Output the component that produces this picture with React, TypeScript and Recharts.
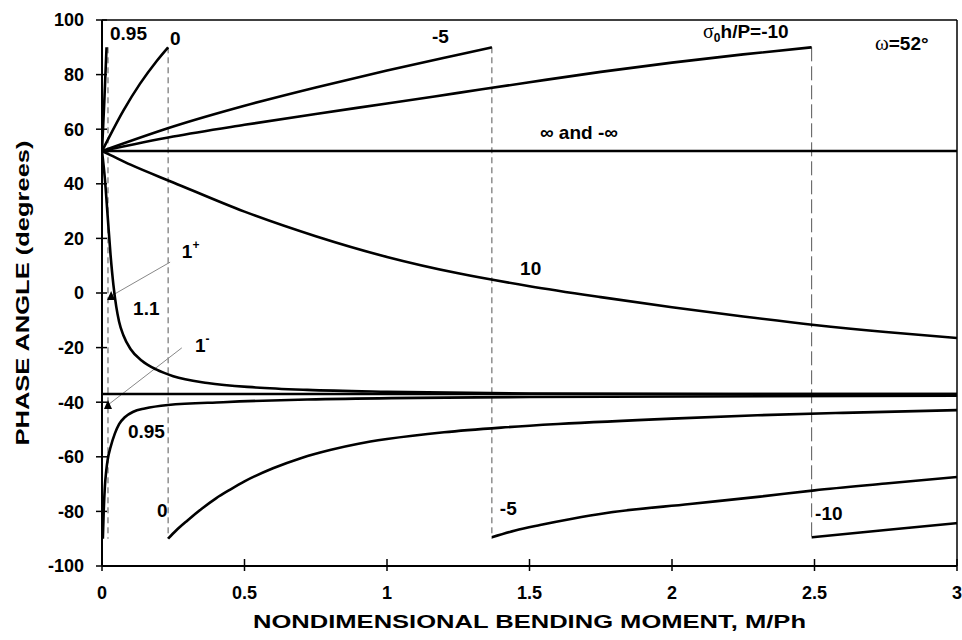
import React from 'react';
import { ComposedChart, Line, XAxis, YAxis, ReferenceLine, ReferenceDot, Scatter } from 'recharts';

type Pt = { x: number; y: number };
const pts = (a: number[][]): Pt[] => a.map(([x, y]) => ({ x, y }));

// axis ticks
const xTicks = [0, 0.5, 1, 1.5, 2, 2.5, 3];
const xTickLabels = ['0', '0.5', '1', '1.5', '2', '2.5', '3'];
const yTicks = [-100, -80, -60, -40, -20, 0, 20, 40, 60, 80, 100];

// curves for sigma0 h / P
const sigmaInf = [[0, 52], [3, 52]];
const sigma10 = [[0, 52], [0.03, 50.5], [0.1, 47], [0.25, 40.5], [0.5, 29.8], [0.75, 20.8], [1.0, 13.2], [1.25, 7.2], [1.5, 2.5], [1.75, -1.5], [2.0, -5.2], [2.25, -8.6], [2.5, -11.7], [2.75, -14.3], [3.0, -16.5]];
const sigma0Upper = [[0, 52], [0.005, 53], [0.075, 66.8], [0.133, 76.6], [0.192, 85], [0.232, 90]];
const sigmaM5Upper = [[0, 52], [0.25, 61], [0.5, 68.6], [0.75, 75.3], [1.0, 81.5], [1.25, 87.3], [1.368, 90]];
const sigmaM10Upper = [[0, 52], [0.25, 57.3], [0.5, 61.6], [0.75, 65.6], [1.0, 69.4], [1.25, 73.3], [1.5, 77.2], [1.75, 81], [2.0, 84.4], [2.25, 87.4], [2.49, 90]];
const sigma095Upper = [[0, 52], [0.008, 70], [0.016, 90]];
const sigma11 = [[0, 52], [0.01, 42], [0.02, 28], [0.03, 14], [0.04, 3], [0.05, -5], [0.06, -10.5], [0.075, -15.5], [0.1, -20.5], [0.14, -24.8], [0.19, -28], [0.25, -30.5], [0.37, -33], [0.54, -34.6], [0.72, -35.5], [1.0, -36.2], [1.5, -36.8], [2.2, -37], [3, -37]];
const sigma1Line = [[0, -37], [3, -37]];
const sigma095Lower = [[0.003, -90], [0.006, -80], [0.01, -71], [0.015, -65], [0.02, -61], [0.03, -56.5], [0.045, -51.5], [0.06, -48], [0.08, -45.5], [0.11, -43.5], [0.15, -42.3], [0.232, -41], [0.425, -40], [0.72, -39], [1.5, -38.1], [3, -37.6]];
const sigma0Lower = [[0.232, -90], [0.26, -87], [0.3, -83.3], [0.35, -79], [0.4, -75.2], [0.45, -72], [0.5, -69], [0.6, -64.2], [0.7, -60.4], [0.8, -57.5], [0.9, -55.2], [1.0, -53.5], [1.2, -51], [1.4, -49.3], [1.6, -48], [2.0, -46], [2.3, -44.8], [2.6, -43.9], [3.0, -42.9]];
const sigmaM5Lower = [[1.368, -89.5], [1.45, -87], [1.537, -85], [1.65, -82.7], [1.77, -80.6], [2.063, -77.3], [2.309, -74.6], [2.5, -72.3], [2.75, -69.8], [3.0, -67.4]];
const sigmaM10Lower = [[2.49, -89.5], [2.75, -86.8], [3.0, -84.3]];

// vertical dashed limits
const dashX = [0.021, 0.232, 1.368, 2.49];
const dashTop = 90;
const dashBottom = -90;

// pointers and markers for 1+ / 1-
const pointer1Plus = [[0.032, -1.1], [0.239, 11.3]];
const pointer1Minus = [[0.021, -41], [0.28, -20.1]];
const markers = [[0.032, -1.1], [0.021, -41]];

// curve labels (anchor = text start, baseline)
const labels = [
  { key: 'p95top', text: '0.95', x: 0.028, y: 92.6 },
  { key: 'p0top', text: '0', x: 0.239, y: 91 },
  { key: 'm5top', text: '-5', x: 1.158, y: 91.5 },
  { key: 'sigma', text: 'h/P=-10', x: 2.109, y: 93.3 },
  { key: 'omega', text: '=52°', x: 2.712, y: 89 },
  { key: 'inf', text: '∞ and -∞', x: 1.537, y: 56.3 },
  { key: 'p10', text: '10', x: 1.467, y: 6.6 },
  { key: 'onePlus', text: '1', x: 0.28, y: 12.8 },
  { key: 'p11', text: '1.1', x: 0.109, y: -8 },
  { key: 'oneMinus', text: '1', x: 0.326, y: -21.6 },
  { key: 'p95low', text: '0.95', x: 0.091, y: -53 },
  { key: 'p0low', text: '0', x: 0.193, y: -82 },
  { key: 'm5low', text: '-5', x: 1.396, y: -81.2 },
  { key: 'm10low', text: '-10', x: 2.502, y: -83 },
];

const FONT = '"Liberation Sans", Arial, sans-serif';
const SERIF = '"Liberation Serif", "Times New Roman", serif';

const curves = [sigmaInf, sigma10, sigma0Upper, sigmaM5Upper, sigmaM10Upper, sigma095Upper, sigma11, sigma1Line, sigma095Lower, sigma0Lower, sigmaM5Lower, sigmaM10Lower];

const TICK_SIZE_X = 5;
const TICK_MARGIN_X = 15;
const TICK_SIZE_Y = 5;
const TICK_MARGIN_Y = 13;

const XTick = (p: any) => {
  const ay = p.y - TICK_SIZE_X - TICK_MARGIN_X;
  const idx = xTicks.indexOf(p.payload.value);
  return (
    <g>
      <line x1={p.x} x2={p.x} y1={ay - 7} y2={ay + 5} stroke="#000" strokeWidth={1.5} />
      <text x={p.x} y={p.y} dy="0.71em" textAnchor="middle" fontFamily={FONT} fontWeight="bold" fontSize={18} fill="#000">
        {idx >= 0 ? xTickLabels[idx] : p.payload.value}
      </text>
    </g>
  );
};

const YTick = (p: any) => {
  const ax = p.x + TICK_SIZE_Y + TICK_MARGIN_Y;
  return (
    <g>
      <line x1={ax - 6} x2={ax + 5} y1={p.y} y2={p.y} stroke="#000" strokeWidth={1.5} />
      <text x={p.x} y={p.y} dy="0.36em" textAnchor="end" fontFamily={FONT} fontWeight="bold" fontSize={18} fill="#000">
        {p.payload.value}
      </text>
    </g>
  );
};

const renderLabel = (lab: any) => (p: any) => {
  const common = { x: p.cx, y: p.cy, fontFamily: FONT, fontWeight: 'bold' as const, fontSize: 19, fill: '#000' };
  if (lab.key === 'sigma') {
    return (
      <text {...common}>
        <tspan fontFamily={SERIF} fontWeight="normal" fontSize={20}>σ</tspan>
        <tspan fontSize={12} dy={4}>0</tspan>
        <tspan dy={-4}>{lab.text}</tspan>
      </text>
    );
  }
  if (lab.key === 'omega') {
    return (
      <text {...common}>
        <tspan fontFamily={SERIF} fontWeight="normal" fontSize={21}>ω</tspan>
        <tspan>{lab.text}</tspan>
      </text>
    );
  }
  if (lab.key === 'onePlus' || lab.key === 'oneMinus') {
    return (
      <text {...common}>
        {lab.text}
        <tspan fontSize={12} dy={-9}>{lab.key === 'onePlus' ? '+' : '-'}</tspan>
      </text>
    );
  }
  return <text {...common}>{lab.text}</text>;
};

const Triangle = (p: any) => (
  <polygon points={`${p.cx - 4},${p.cy + 4} ${p.cx + 4},${p.cy + 4} ${p.cx},${p.cy - 5}`} fill="#000" />
);

const XTitle = (props: any) => {
  const vb = props.viewBox;
  return (
    <text x={vb.x + vb.width / 2} y={vb.y + 62} textAnchor="middle" fontFamily={FONT} fontWeight="bold" fontSize={18} fill="#000" textLength={553} lengthAdjust="spacingAndGlyphs">
      NONDIMENSIONAL BENDING MOMENT, M/Ph
    </text>
  );
};

const YTitle = (props: any) => {
  const vb = props.viewBox;
  const cx = 29;
  const cy = vb.y + vb.height / 2;
  return (
    <text x={cx} y={cy} transform={`rotate(-90 ${cx} ${cy})`} textAnchor="middle" fontFamily={FONT} fontWeight="bold" fontSize={18} fill="#000" textLength={305} lengthAdjust="spacingAndGlyphs">
      PHASE ANGLE (degrees)
    </text>
  );
};

export default function App() {
  return (
    <div style={{ position: 'absolute', left: 0, top: 0, background: '#fff' }}>
      <ComposedChart width={962} height={640} margin={{ top: 20, right: 5, bottom: 44, left: 0 }}>
        <XAxis
          dataKey="x"
          type="number"
          domain={[0, 3]}
          ticks={xTicks}
          allowDataOverflow
          height={30}
          tickSize={TICK_SIZE_X}
          tickMargin={TICK_MARGIN_X}
          tickLine={false}
          tick={<XTick />}
          axisLine={{ stroke: '#000', strokeWidth: 2 }}
          label={{ content: XTitle }}
        />
        <YAxis
          type="number"
          domain={[-100, 100]}
          ticks={yTicks}
          allowDataOverflow
          width={102}
          tickSize={TICK_SIZE_Y}
          tickMargin={TICK_MARGIN_Y}
          tickLine={false}
          tick={<YTick />}
          axisLine={{ stroke: '#000', strokeWidth: 2 }}
          label={{ content: YTitle }}
        />
        <ReferenceLine y={100} stroke="#000" strokeWidth={1.5} />
        <ReferenceLine x={3} stroke="#000" strokeWidth={1.5} />
        {dashX.map((dx, i) => (
          <ReferenceLine
            key={'d' + i}
            segment={[{ x: dx, y: dashTop }, { x: dx, y: dashBottom }]}
            stroke="#555"
            strokeWidth={1}
            strokeDasharray={i === 3 ? '14 5' : '6 4'}
          />
        ))}
        <Line data={pts(pointer1Plus)} dataKey="y" type="linear" stroke="#888" strokeWidth={1} dot={false} isAnimationActive={false} />
        <Line data={pts(pointer1Minus)} dataKey="y" type="linear" stroke="#888" strokeWidth={1} dot={false} isAnimationActive={false} />
        {curves.map((c, i) => (
          <Line key={'c' + i} data={pts(c)} dataKey="y" type="monotone" stroke="#000" strokeWidth={2.6} dot={false} isAnimationActive={false} />
        ))}
        <Scatter data={pts(markers)} dataKey="y" shape={<Triangle />} isAnimationActive={false} />
        {labels.map((lab) => (
          <ReferenceDot key={lab.key} x={lab.x} y={lab.y} r={0} shape={renderLabel(lab)} ifOverflow="visible" />
        ))}
      </ComposedChart>
    </div>
  );
}
